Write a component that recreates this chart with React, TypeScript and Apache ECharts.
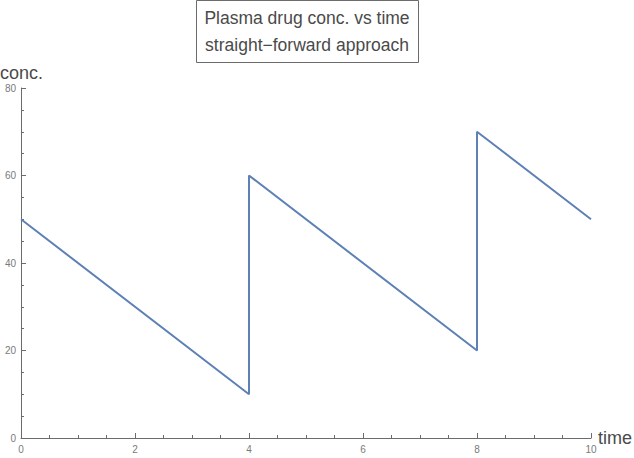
import React, { useEffect, useRef } from "react";
import * as echarts from "echarts";

const timeValues = [0, 4, 4, 8, 8, 10];
const concValues = [50, 10, 60, 20, 70, 50];
const titleLines = ["Plasma drug conc. vs time", "straight\u2212forward approach"];
const xName = "time";
const yName = "conc.";

export default function App() {
  const ref = useRef<HTMLDivElement>(null);
  useEffect(() => {
    const chart = echarts.init(ref.current!, null, { renderer: "svg" });
    const axisColor = "#6b6b6b";
    const labelColor = "#7a7a7a";
    const font = "Liberation Sans, Arial, sans-serif";
    chart.setOption({
      animation: false,
      grid: { left: 21, right: 43, top: 88, bottom: 20, containLabel: false },
      xAxis: {
        type: "value",
        min: 0,
        max: 10,
        interval: 2,
        splitLine: { show: false },
        axisLine: { onZero: false, lineStyle: { color: axisColor, width: 1 } },
        axisTick: { inside: true, length: 5, lineStyle: { color: axisColor } },
        minorTick: { show: true, splitNumber: 4, length: 3, lineStyle: { color: axisColor } },
        axisLabel: { color: labelColor, fontSize: 10, fontFamily: font, margin: 6 },
      },
      yAxis: {
        type: "value",
        min: 0,
        max: 80,
        interval: 20,
        splitLine: { show: false },
        axisLine: { show: true, onZero: false, lineStyle: { color: axisColor, width: 1 } },
        axisTick: { show: true, inside: true, length: 5, lineStyle: { color: axisColor } },
        minorTick: { show: true, splitNumber: 4, length: 3, lineStyle: { color: axisColor } },
        axisLabel: { color: labelColor, fontSize: 10, fontFamily: font, margin: 5 },
      },
      series: [
        {
          type: "line",
          data: timeValues.map((t, i) => [t, concValues[i]]),
          showSymbol: false,
          symbol: "none",
          lineStyle: { color: "#5E81B5", width: 2 },
          itemStyle: { color: "#5E81B5" },
        },
      ],
      graphic: [
        {
          type: "rect",
          shape: { x: 196.5, y: 0.5, width: 222, height: 62 },
          style: { fill: "#fff", stroke: "#6b6b6b", lineWidth: 1 },
        },
        {
          type: "text",
          x: 307,
          y: 18,
          style: {
            text: titleLines[0],
            fontSize: 17.5,
            fontFamily: font,
            fill: "#4a4a4a",
            align: "center",
            verticalAlign: "middle",
          },
        },
        {
          type: "text",
          x: 307,
          y: 45,
          style: {
            text: titleLines[1],
            fontSize: 17.5,
            fontFamily: font,
            fill: "#4a4a4a",
            align: "center",
            verticalAlign: "middle",
          },
        },
        {
          type: "text",
          x: 0,
          y: 73,
          style: {
            text: yName,
            fontSize: 18,
            fontFamily: font,
            fill: "#4a4a4a",
            align: "left",
            verticalAlign: "middle",
          },
        },
        {
          type: "text",
          x: 598,
          y: 438,
          style: {
            text: xName,
            fontSize: 18,
            fontFamily: font,
            fill: "#4a4a4a",
            align: "left",
            verticalAlign: "middle",
          },
        },
      ],
    });
    return () => chart.dispose();
  }, []);
  return <div ref={ref} style={{ width: 634, height: 458, position: "absolute", left: 0, top: 0 }} />;
}
